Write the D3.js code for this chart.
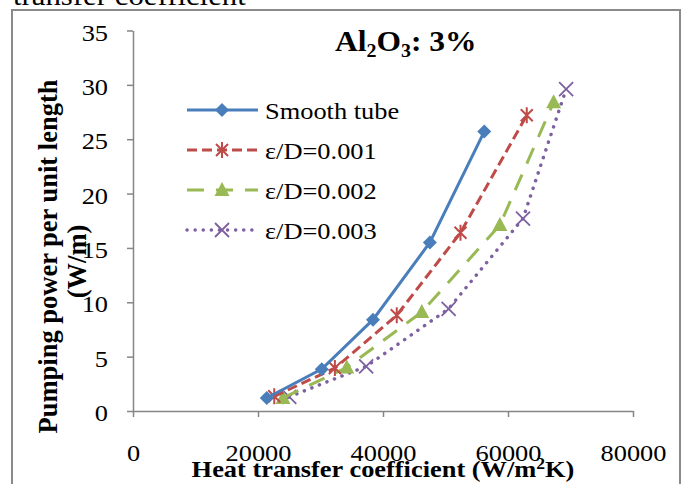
<!DOCTYPE html>
<html>
<head>
<meta charset="utf-8">
<script src="https://cdnjs.cloudflare.com/ajax/libs/d3/7.8.5/d3.min.js"></script>
<style>
    body { margin: 0; background: #fff; }
    svg text { font-family: "Liberation Serif", "Times New Roman", serif; fill: #000; }
</style>
</head>
<body>
<div id="chart"></div>
<script>
// series data: heat transfer coefficient (W/m2K) vs pumping power (W/m)
var smoothX = [21400, 30200, 38400, 47500, 56200];
var smoothY = [1.2, 3.85, 8.4, 15.5, 25.7];
var rough1X = [22600, 32300, 42200, 52400, 63000];
var rough1Y = [1.35, 3.95, 8.8, 16.4, 27.2];
var rough2X = [24000, 34200, 46200, 58700, 67300];
var rough2Y = [1.2, 4.0, 9.1, 17.1, 28.4];
var rough3X = [25000, 37300, 50500, 62400, 69300];
var rough3Y = [1.3, 4.1, 9.4, 17.7, 29.6];

var seriesNames = ["Smooth tube", "\u03b5/D=0.001", "\u03b5/D=0.002", "\u03b5/D=0.003"];
var xTicks = [0, 20000, 40000, 60000, 80000];
var yTicks = [0, 5, 10, 15, 20, 25, 30, 35];

var width = 683, height = 484;
var stretch = 1.1;   // the source figure is a little wider than tall

var svg = d3.select("#chart").append("svg")
    .attr("width", width)
    .attr("height", height);

// bit of document text above the figure, cut off by the crop
svg.append("text")
    .attr("transform", "translate(13,5) scale(" + stretch + ",1)")
    .style("font-size", "28px")
    .text("transfer coefficient");

// figure frame
svg.append("rect")
    .attr("x", 12)
    .attr("y", 10)
    .attr("width", 668)
    .attr("height", 490)
    .attr("fill", "none")
    .attr("stroke", "#8a8a8a")
    .attr("stroke-width", 2);

var x = d3.scaleLinear().domain([0, 80000]).range([133, 633]);
var y = d3.scaleLinear().domain([0, 35]).range([411, 30.5]);

var xAxis = svg.append("g")
    .attr("transform", "translate(0," + y(0) + ")")
    .call(d3.axisBottom(x).tickValues(xTicks).tickSize(6).tickSizeOuter(0).tickPadding(27).tickFormat(d3.format("d")));

var yAxis = svg.append("g")
    .attr("transform", "translate(" + x(0) + ",0)")
    .call(d3.axisLeft(y).tickValues(yTicks).tickSize(6).tickSizeOuter(0));

[xAxis, yAxis].forEach(function (a) {
    a.select(".domain").attr("stroke", "#868686").attr("stroke-width", 1.5);
    a.selectAll(".tick line").attr("stroke", "#868686").attr("stroke-width", 1.5);
    a.selectAll(".tick text")
        .style("font-family", "'Liberation Serif', 'Times New Roman', serif")
        .style("font-size", "24px")
        .attr("fill", "#000")
        .attr("transform", "scale(" + stretch + ",1)");
});
yAxis.selectAll(".tick text").attr("x", -22.7).attr("dy", "0.4em");

// markers
function diamond(g, c) {
    g.append("path").attr("d", "M0,-7L7,0L0,7L-7,0Z").attr("fill", c);
}
function asterisk(g, c) {
    g.append("path").attr("d", "M0,-8V8M-6,-6L6,6M-6,6L6,-6")
        .attr("stroke", c).attr("stroke-width", 2).attr("fill", "none");
}
function triangle(g, c) {
    g.append("path").attr("d", "M0,-8L7.5,6L-7.5,6Z").attr("fill", c);
}
function cross(g, c) {
    g.append("path").attr("d", "M-7,-7L7,7M-7,7L7,-7")
        .attr("stroke", c).attr("stroke-width", 1.8).attr("fill", "none");
}

var series = [
    { name: seriesNames[0], xs: smoothX, ys: smoothY, color: "#4A7EBB", dash: null, cap: "butt", marker: diamond },
    { name: seriesNames[1], xs: rough1X, ys: rough1Y, color: "#BE4B48", dash: "10,5", cap: "butt", marker: asterisk },
    { name: seriesNames[2], xs: rough2X, ys: rough2Y, color: "#98B954", dash: "17,12", cap: "butt", marker: triangle },
    { name: seriesNames[3], xs: rough3X, ys: rough3Y, color: "#7D60A0", dash: "0.1,8", cap: "round", marker: cross }
];

var line = d3.line()
    .x(function (d) { return x(d[0]); })
    .y(function (d) { return y(d[1]); });

// draw back to front so the smooth tube sits on top
series.slice().reverse().forEach(function (s) {
    var pts = s.xs.map(function (v, i) { return [v, s.ys[i]]; });
    svg.append("path")
        .datum(pts)
        .attr("d", line)
        .attr("fill", "none")
        .attr("stroke", s.color)
        .attr("stroke-width", s.cap == "round" ? 3.5 : 3)
        .attr("stroke-dasharray", s.dash)
        .attr("stroke-linecap", s.cap);
    pts.forEach(function (p) {
        var g = svg.append("g").attr("transform", "translate(" + x(p[0]) + "," + y(p[1]) + ")");
        s.marker(g, s.color);
    });
});

// legend
var legendY = [110, 150, 190, 230];
series.forEach(function (s, i) {
    svg.append("line")
        .attr("x1", 187).attr("x2", 258)
        .attr("y1", legendY[i]).attr("y2", legendY[i])
        .attr("stroke", s.color)
        .attr("stroke-width", s.cap == "round" ? 3.5 : 3)
        .attr("stroke-dasharray", s.dash)
        .attr("stroke-linecap", s.cap);
    var g = svg.append("g").attr("transform", "translate(222," + legendY[i] + ")");
    s.marker(g, s.color);
    svg.append("text")
        .attr("transform", "translate(265," + (legendY[i] + 8.5) + ") scale(" + stretch + ",1)")
        .style("font-size", "24px")
        .text(s.name);
});

// title with subscripts
var title = svg.append("text")
    .attr("transform", "translate(335,51) scale(1.05,1)")
    .style("font-size", "30px")
    .style("font-weight", "bold");
title.append("tspan").text("Al");
title.append("tspan").attr("dy", 6).style("font-size", "19px").text("2");
title.append("tspan").attr("dy", -6).text("O");
title.append("tspan").attr("dy", 6).style("font-size", "19px").text("3");
title.append("tspan").attr("dy", -6).text(": 3%");

// axis titles
var xTitle = svg.append("text")
    .attr("transform", "translate(383,477) scale(" + stretch + ",1)")
    .attr("text-anchor", "middle")
    .style("font-size", "24px")
    .style("font-weight", "bold");
xTitle.append("tspan").text("Heat transfer coefficient (W/m");
xTitle.append("tspan").attr("dy", -8).style("font-size", "16px").text("2");
xTitle.append("tspan").attr("dy", 8).text("K)");

svg.append("text")
    .attr("transform", "translate(57,256.5) rotate(-90)")
    .attr("text-anchor", "middle")
    .style("font-size", "26.5px")
    .style("font-weight", "bold")
    .text("Pumping power per unit length");

svg.append("text")
    .attr("transform", "translate(85.5,261.5) rotate(-90)")
    .attr("text-anchor", "middle")
    .style("font-size", "26.5px")
    .style("font-weight", "bold")
    .text("(W/m)");
</script>
</body>
</html>
